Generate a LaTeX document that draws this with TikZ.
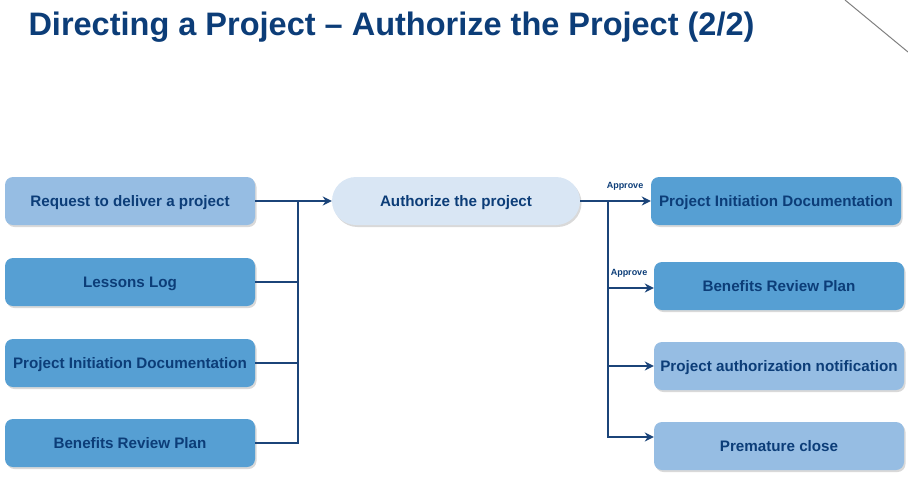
\documentclass[tikz,border=0pt]{standalone}
\usepackage{fontspec}
\setmainfont{Liberation Sans}
\usetikzlibrary{arrows.meta,shadows,positioning}
\definecolor{navy}{HTML}{0C3D78}
\definecolor{linkblue}{HTML}{1B4479}
\definecolor{midblue}{HTML}{569FD3}
\definecolor{lightblue}{HTML}{96BDE3}
\definecolor{paleblue}{HTML}{D9E6F4}

\begin{document}
\begin{tikzpicture}[x=1pt,y=-1pt,
  box/.style={rounded corners=8pt, minimum width=250pt, minimum height=48pt,
    inner sep=2pt, text=navy, font=\bfseries\fontsize{15.2}{17}\selectfont,
    text height=2ex, text depth=0.1ex,
    drop shadow={shadow xshift=1.5pt, shadow yshift=-2pt, opacity=0.3}},
  conn/.style={linkblue, line width=1.6pt},
  arr/.style={conn, -{Stealth[length=9pt,width=9pt]}},
  approve/.style={font=\bfseries\fontsize{9}{10}\selectfont, text=navy}]
\useasboundingbox (0,0) rectangle (908,480);

% title and corner line
\node[anchor=base west, text=navy, font=\bfseries\fontsize{32.5}{36}\selectfont]
  (title) at (25,35) {Directing a Project – Authorize the Project (2/2)};
\draw[gray, line width=1pt] (845,0) -- (908,52);

% inputs
\node[box, fill=lightblue] (request) at (130,201) {Request to deliver a project};
\node[box, fill=midblue] (lessons) at (130,282) {Lessons Log};
\node[box, fill=midblue] (pidIn) at (130,363) {Project Initiation Documentation};
\node[box, fill=midblue] (brpIn) at (130,443) {Benefits Review Plan};

% process
\node[box, fill=paleblue, rounded corners=24pt, minimum width=248pt] (authorize) at (456,201) {Authorize the project};

% outputs
\node[box, fill=midblue] (pidOut) at (776,201) {Project Initiation Documentation};
\node[box, fill=midblue] (brpOut) at (779,286) {Benefits Review Plan};
\node[box, fill=lightblue] (notify) at (779,366) {Project authorization notification};
\node[box, fill=lightblue] (close) at (779,446) {Premature close};

% left bus
\coordinate (busL) at (298,201);
\draw[arr] (request) -- (authorize);
\draw[conn] (busL) |- (lessons);
\draw[conn] (busL) |- (pidIn);
\draw[conn] (busL) |- (brpIn);

% right bus
\coordinate (busR) at (608,201);
\draw[arr] (authorize) -- (pidOut);
\draw[arr] (busR) |- ([yshift=-2pt]brpOut.west);
\draw[arr] (busR) |- (notify);
\draw[arr] (busR) |- ([yshift=9pt]close.west);

\node[approve] (ok1) at (625,186) {Approve};
\node[approve] (ok2) at (629,273) {Approve};
\end{tikzpicture}
\end{document}
